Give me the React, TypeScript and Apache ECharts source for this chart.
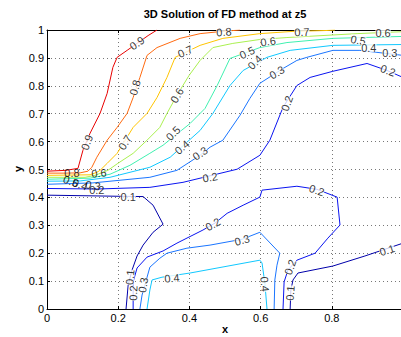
import React, { useEffect, useRef } from "react";
import * as echarts from "echarts";

// Contour lines: [x, y] points for each level (segments)
const c09 = [[0,0.494],[0.053,0.497],[0.087,0.504],[0.101,0.569],[0.121,0.63],[0.149,0.701],[0.169,0.773],[0.185,0.866],[0.197,0.902],[0.225,0.927],[0.284,0.98],[0.309,1.0]];
const c08 = [[0,0.487],[0.051,0.487],[0.093,0.488],[0.115,0.494],[0.126,0.508],[0.14,0.544],[0.169,0.605],[0.197,0.651],[0.225,0.701],[0.242,0.758],[0.261,0.83],[0.281,0.909],[0.309,0.937],[0.374,0.97],[0.43,0.987],[0.492,0.995],[0.542,1.0]];
const c07 = [[0,0.479],[0.121,0.481],[0.14,0.49],[0.149,0.497],[0.169,0.522],[0.197,0.558],[0.242,0.651],[0.281,0.701],[0.309,0.758],[0.337,0.83],[0.36,0.902],[0.43,0.945],[0.494,0.97],[0.598,0.987],[0.691,0.995],[0.781,0.998],[0.809,1.0]];
const c06 = [[0,0.472],[0.107,0.472],[0.135,0.479],[0.171,0.497],[0.199,0.522],[0.242,0.558],[0.281,0.605],[0.317,0.651],[0.337,0.701],[0.365,0.766],[0.399,0.837],[0.43,0.891],[0.466,0.937],[0.522,0.952],[0.598,0.966],[0.674,0.973],[0.871,0.987],[1.0,0.994]];
const c05 = [[0,0.465],[0.121,0.469],[0.177,0.483],[0.233,0.515],[0.289,0.558],[0.326,0.587],[0.402,0.665],[0.444,0.719],[0.478,0.801],[0.514,0.898],[0.598,0.937],[0.674,0.955],[0.803,0.97],[1.0,0.977]];
const c04a = [[0,0.458],[0.093,0.459],[0.177,0.472],[0.289,0.508],[0.346,0.544],[0.43,0.64],[0.466,0.701],[0.514,0.801],[0.551,0.855],[0.618,0.902],[0.683,0.927],[0.803,0.945],[1.0,0.948]];
const c04b = [[0.281,0],[0.289,0.068],[0.295,0.104],[0.323,0.114],[0.402,0.129],[0.598,0.175],[0.604,0.165],[0.612,0.093],[0.618,0]];
const c03a = [[0,0.447],[0.129,0.452],[0.289,0.472],[0.365,0.497],[0.43,0.551],[0.458,0.58],[0.494,0.605],[0.542,0.694],[0.57,0.755],[0.598,0.809],[0.663,0.862],[0.702,0.891],[0.73,0.902],[0.803,0.927],[0.879,0.927],[1.0,0.909]];
const c03b = [[0.261,0],[0.267,0.05],[0.289,0.15],[0.317,0.182],[0.337,0.2],[0.393,0.218],[0.458,0.229],[0.548,0.25],[0.598,0.275],[0.654,0.2],[0.646,0.157],[0.64,0.104],[0.638,0]];
const c02a = [[0,0.432],[0.14,0.43],[0.289,0.436],[0.382,0.454],[0.534,0.501],[0.598,0.551],[0.626,0.605],[0.663,0.723],[0.702,0.801],[0.739,0.83],[0.803,0.852],[0.899,0.88],[0.955,0.855],[1.0,0.83]];
const c02b = [[0.242,0],[0.242,0.097],[0.253,0.147],[0.281,0.186],[0.326,0.208],[0.365,0.236],[0.438,0.283],[0.472,0.308],[0.506,0.343],[0.551,0.372],[0.598,0.401],[0.604,0.426],[0.702,0.44],[0.758,0.429],[0.815,0.401],[0.823,0.301],[0.789,0.254],[0.753,0.2],[0.702,0.175],[0.677,0.14],[0.666,0.097],[0.663,0]];
const c01a = [[0,0.408],[0.205,0.404],[0.27,0.403],[0.298,0.372],[0.326,0.304],[0.298,0.275],[0.27,0.229],[0.253,0.19],[0.239,0.14],[0.228,0.086],[0.222,0]];
const c01b = [[0.683,0],[0.685,0.068],[0.691,0.104],[0.705,0.129],[0.803,0.154],[0.893,0.19],[1.0,0.236]];

const segments: [number, number[][]][] = [
  [0.1, c01a], [0.1, c01b], [0.2, c02a], [0.2, c02b], [0.3, c03a], [0.3, c03b],
  [0.4, c04a], [0.4, c04b], [0.5, c05], [0.6, c06], [0.7, c07], [0.8, c08], [0.9, c09],
];

const levelColors: Record<string, string> = {
  "0.1": "#0000aa", "0.2": "#0a14f0", "0.3": "#1a75ff", "0.4": "#10c8ff", "0.5": "#40f0b0",
  "0.6": "#aaf050", "0.7": "#ffc400", "0.8": "#ff6a10", "0.9": "#e80000",
};

// Contour labels: [x, y, text, rotation]
const contourLabels: [number, number, string, number][] = [
  [0.112, 0.597, "0.9", 70], [0.253, 0.953, "0.9", 35],
  [0.247, 0.794, "0.8", 75], [0.497, 0.993, "0.8", 4],
  [0.219, 0.597, "0.7", 58], [0.388, 0.923, "0.7", 25], [0.716, 0.993, "0.7", 2],
  [0.365, 0.766, "0.6", 60], [0.621, 0.959, "0.6", 8], [0.944, 0.991, "0.6", 0],
  [0.354, 0.63, "0.5", 45], [0.562, 0.919, "0.5", 25], [0.874, 0.964, "0.5", -10],
  [0.379, 0.58, "0.4", 40], [0.584, 0.884, "0.4", 45], [0.904, 0.937, "0.4", 0],
  [0.351, 0.111, "0.4", 5], [0.612, 0.089, "0.4", -85],
  [0.43, 0.558, "0.3", 35], [0.646, 0.848, "0.3", 30], [0.963, 0.916, "0.3", 0],
  [0.27, 0.086, "0.3", 80], [0.548, 0.247, "0.3", 15],
  [0.458, 0.472, "0.2", 10], [0.674, 0.737, "0.2", 70], [0.958, 0.855, "0.2", -20],
  [0.242, 0.057, "0.2", 88], [0.466, 0.304, "0.2", 30], [0.758, 0.426, "0.2", -18], [0.683, 0.15, "0.2", 70],
  [0.228, 0.401, "0.1", 0], [0.233, 0.114, "0.1", 85], [0.683, 0.057, "0.1", 85], [0.955, 0.211, "0.1", 18],
];
// Labels in the crowded band on the left (no background)
const clusterLabels: [number, number, string, number][] = [
  [0.07, 0.488, "0.8", 0], [0.146, 0.487, "0.6", 5], [0.067, 0.458, "0.5", -20],
  [0.093, 0.446, "0.4", -20], [0.129, 0.443, "0.3", -10], [0.14, 0.425, "0.2", 0],
];

const FONT = "'Liberation Sans', Arial, Helvetica, sans-serif";

export default function App() {
  const ref = useRef<HTMLDivElement>(null);
  useEffect(() => {
    if (!ref.current) return;
    const chart = echarts.init(ref.current, undefined, { renderer: "svg" });
    const labelStyle = {
      show: true, position: "inside", color: "#000", fontSize: 11, fontFamily: FONT,
    };
    const lineSeries = segments.map(([lv, pts]) => ({
      type: "line", data: pts, showSymbol: false, symbol: "none", silent: true,
      lineStyle: { color: levelColors[lv.toFixed(1)], width: 1 }, z: 2,
    }));
    const mkLabels = (arr: [number, number, string, number][], bg: boolean) => ({
      type: "scatter", symbolSize: 1, itemStyle: { color: "rgba(0,0,0,0)" }, z: 5, silent: true,
      data: arr.map(([x, y, t, r]) => ({
        value: [x, y],
        label: { ...labelStyle, formatter: t, rotate: r,
          backgroundColor: bg ? "#fff" : "transparent", padding: [0, 0], lineHeight: 9 },
      })),
    });
    const option: any = {
      animation: false,
      backgroundColor: "#fff",
      grid: { left: 47, top: 30, width: 356, height: 279, containLabel: false, outerBoundsMode: "none" },
      graphic: [{
        type: "text", x: 225, y: 14,
        style: { text: "3D Solution of FD method at z5", textAlign: "center", textVerticalAlign: "middle",
          font: `bold 11px ${FONT}`, fill: "#000" },
      }, {
        type: "text", x: 225, y: 329,
        style: { text: "x", textAlign: "center", textVerticalAlign: "middle",
          font: `bold 11px ${FONT}`, fill: "#000" },
      }, {
        type: "text", x: 18, y: 169, rotation: Math.PI / 2,
        style: { text: "y", textAlign: "center", textVerticalAlign: "middle",
          font: `bold 11px ${FONT}`, fill: "#000" },
      }],
      xAxis: [{
        type: "value", min: 0, max: 1, interval: 0.2, position: "bottom",
        axisLine: { show: true, lineStyle: { color: "#000", width: 1 } },
        axisTick: { show: true, inside: true, length: 3, lineStyle: { color: "#000" } },
        axisLabel: { color: "#000", fontSize: 11, fontFamily: FONT, margin: 3, showMaxLabel: false },
        splitLine: { show: true, lineStyle: { color: "#777", type: [1, 3], width: 1 } },
      }, {
        type: "value", min: 0, max: 1, interval: 0.2, position: "top",
        axisLine: { show: true, lineStyle: { color: "#000", width: 1 } },
        axisTick: { show: true, inside: true, length: 3, lineStyle: { color: "#000" } },
        axisLabel: { show: false }, splitLine: { show: false },
      }],
      yAxis: [{
        type: "value", min: 0, max: 1, interval: 0.1,
        axisLine: { show: true, lineStyle: { color: "#000", width: 1 } },
        axisTick: { show: true, inside: true, length: 3, lineStyle: { color: "#000" } },
        axisLabel: { color: "#000", fontSize: 11, fontFamily: FONT, margin: 3 },
        splitLine: { show: true, lineStyle: { color: "#777", type: [1, 3], width: 1 } },
      }],
      series: [...lineSeries, mkLabels(contourLabels, true), mkLabels(clusterLabels, false)],
    };
    chart.setOption(option);
    return () => chart.dispose();
  }, []);
  return (
    <div ref={ref} style={{ position: "fixed", left: 0, top: 0, width: 401, height: 337, background: "#fff" }} />
  );
}
